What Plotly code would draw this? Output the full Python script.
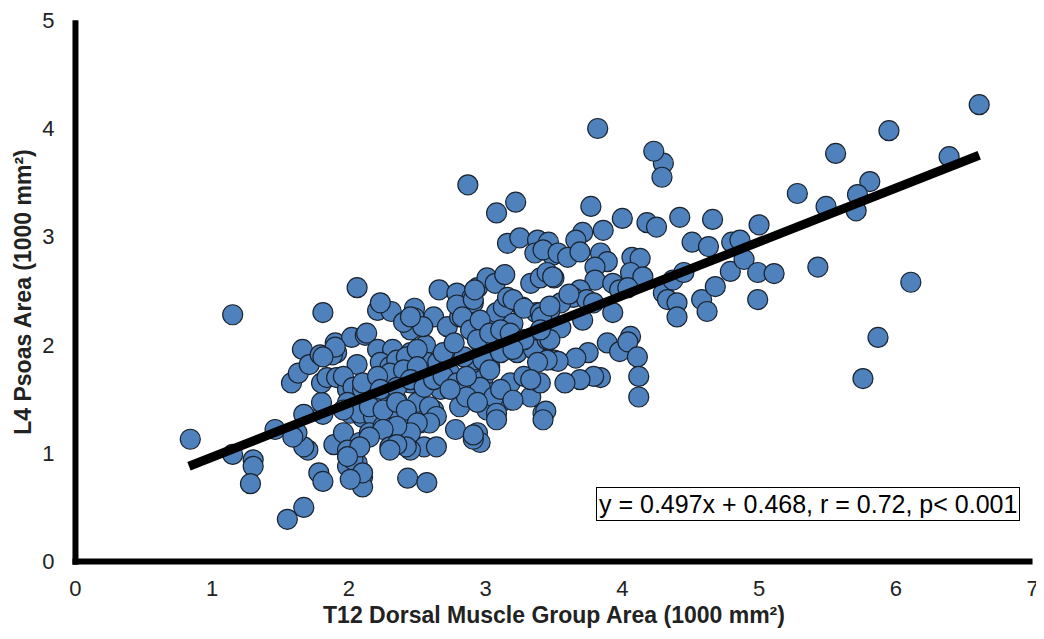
import plotly.graph_objects as go

# Data
t12_area = [
    0.84, 1.15, 1.30, 1.30, 1.28, 1.15, 1.81, 1.46, 1.55, 1.67, 1.78, 1.81, 1.70, 1.67, 1.62, 1.59,
    1.67, 1.81, 1.80, 1.58, 1.63, 1.66, 1.71, 1.79, 1.80, 1.84, 1.91, 1.90, 1.91, 1.88, 2.02, 2.12,
    2.06, 1.99, 2.01, 2.10, 1.96, 1.89, 2.01, 2.06, 2.10, 2.10, 1.99,
    2.21, 2.31, 2.48, 2.48, 2.62, 2.72, 2.81, 2.85, 2.91, 3.01, 3.08, 3.13, 3.20, 3.27, 3.37, 3.47,
    2.13, 2.21, 2.32, 2.45, 2.56, 1.96, 2.23, 2.30, 2.38, 2.45, 2.57, 2.03, 2.10, 2.18, 2.23, 2.35,
    2.50, 2.62, 2.59, 2.67, 2.74, 2.81, 2.89, 2.91, 2.96, 3.03, 2.98, 3.05, 3.11, 3.01, 3.18, 3.28,
    3.33, 3.40, 3.42, 3.23, 3.35, 3.45, 3.50, 2.81, 2.35, 1.99, 2.08, 2.18, 1.96, 2.08, 2.15, 2.25,
    2.35, 2.32, 2.42, 2.52, 2.59, 2.55, 2.64, 2.45, 2.78, 2.94, 2.96, 2.03, 2.10, 2.43, 2.57, 1.99,
    2.87, 3.08, 3.22, 3.16, 3.25, 3.38, 3.46, 3.36, 3.49, 2.06, 2.66, 2.79, 2.90, 2.94, 3.01, 3.07,
    3.14, 2.23, 2.79, 2.91, 3.16, 3.20, 3.28, 3.33, 3.40, 3.50, 3.40,
    4.30, 4.29, 4.23, 3.77, 4.00, 4.18, 4.25, 4.42, 4.66, 5.00, 3.71, 3.66, 3.86, 3.42, 3.53, 3.60,
    3.69, 3.45, 3.49, 3.84, 3.89, 3.80, 3.80, 3.93, 4.07, 4.13, 4.06, 4.15, 3.69, 3.64, 3.74, 3.98,
    4.04, 3.55, 3.47, 3.41, 3.71, 3.93, 3.55, 3.47, 4.30, 4.37, 4.45, 4.33, 4.40, 4.40, 4.58, 4.62,
    4.68, 4.51, 4.63, 4.80, 4.86, 4.79, 4.89, 4.99, 4.99, 3.89, 3.98, 4.06, 4.04, 4.11, 4.12, 4.12,
    3.75, 3.66, 3.53, 3.45, 3.84, 3.79, 3.69, 3.58, 3.44, 3.82,
    6.61, 5.95, 5.56, 6.39, 5.28, 5.81, 5.72, 5.71, 5.49, 5.11, 5.43, 6.11, 5.87, 5.76,
    2.92, 2.83, 2.89, 2.96, 3.01, 2.45, 2.40, 1.90, 1.81, 2.35, 2.42, 2.50, 2.30, 2.40, 2.50, 2.65,
    2.74, 2.84, 2.98, 3.03, 2.10, 2.21, 2.23, 2.35, 2.45, 2.55, 2.62, 2.69, 2.79, 2.86, 2.96, 3.06,
    1.96, 2.15, 2.25, 2.35, 2.42, 2.59, 2.64, 2.59, 2.50, 2.45, 2.35, 2.25, 2.15, 2.08, 2.91, 2.30,
    2.42, 2.01,
    3.61, 3.79, 3.47, 2.94, 3.03, 3.11, 3.18, 3.28, 3.40, 3.38, 3.33, 3.11, 3.08, 2.86, 2.94, 3.20,
    2.74, 2.86, 3.11, 3.20, 2.69, 2.77, 2.54, 2.45,
    2.91, 2.35, 2.30, 1.99, 3.42, 3.08,
]
l4_psoas_area = [
    1.13, 0.99, 0.94, 0.88, 0.72, 2.28, 2.30, 1.22, 0.39, 0.50, 0.82, 0.74, 1.03, 1.06, 1.19, 1.15,
    1.36, 1.36, 1.47, 1.65, 1.74, 1.96, 1.82, 1.91, 1.65, 1.70, 1.70, 2.02, 1.93, 1.91, 2.07, 2.09,
    1.82, 1.59, 1.37, 1.33, 1.15, 1.08, 1.00, 0.91, 0.78, 0.69, 0.88,
    2.32, 2.31, 2.34, 2.25, 2.26, 2.17, 2.26, 2.35, 2.39, 2.20, 2.30, 2.35, 2.20, 2.35, 2.30, 2.23,
    2.11, 1.96, 1.96, 1.93, 2.00, 1.71, 1.84, 1.80, 1.74, 1.65, 1.84, 1.61, 1.59, 1.65, 1.56, 1.49,
    1.47, 1.40, 1.65, 1.59, 1.74, 1.61, 1.74, 1.86, 2.02, 1.80, 1.68, 1.56, 1.47, 1.40, 1.65, 1.71,
    1.52, 1.65, 1.37, 1.93, 1.96, 2.05, 1.86, 1.43, 1.40, 1.47, 1.37, 1.34, 1.19, 1.10, 1.19, 1.25,
    1.15, 1.10, 1.25, 1.28, 1.31, 1.06, 1.06, 1.03, 1.22, 1.19, 1.10, 0.94, 0.82, 0.77, 0.73, 1.03,
    3.48, 3.22, 3.32, 2.94, 2.99, 2.97, 2.95, 2.85, 2.83, 2.53, 2.51, 2.48, 2.44, 2.53, 2.62, 2.57,
    2.65, 2.39, 2.37, 2.42, 2.44, 2.42, 2.34, 2.57, 2.62, 2.62, 2.30,
    3.68, 3.55, 3.79, 3.28, 3.17, 3.13, 3.09, 3.18, 3.16, 3.11, 3.04, 2.97, 3.06, 2.88, 2.85, 2.81,
    2.86, 2.67, 2.63, 2.85, 2.77, 2.72, 2.60, 2.57, 2.81, 2.80, 2.67, 2.63, 2.51, 2.44, 2.42, 2.51,
    2.53, 2.39, 2.32, 2.26, 2.23, 2.30, 2.16, 2.05, 2.48, 2.60, 2.67, 2.42, 2.39, 2.26, 2.42, 2.31,
    2.54, 2.95, 2.91, 2.95, 2.97, 2.68, 2.79, 2.42, 2.67, 2.02, 1.94, 2.08, 2.03, 1.89, 1.71, 1.52,
    1.93, 1.88, 1.85, 1.86, 1.70, 1.71, 1.68, 1.65, 1.39, 4.00,
    4.22, 3.98, 3.77, 3.74, 3.40, 3.51, 3.39, 3.24, 3.28, 2.66, 2.72, 2.58, 2.07, 1.69,
    2.51, 2.26, 2.14, 2.23, 2.08, 2.14, 2.21, 1.98, 1.89, 1.86, 1.89, 1.96, 1.74, 1.77, 1.80, 1.84,
    1.93, 1.89, 1.86, 1.77, 1.65, 1.71, 1.59, 1.61, 1.68, 1.61, 1.68, 1.71, 1.65, 1.61, 1.61, 1.52,
    1.40, 1.43, 1.40, 1.47, 1.40, 1.43, 1.34, 1.28, 1.28, 1.19, 1.25, 1.22, 1.15, 1.06, 1.13, 1.06,
    1.06, 0.76,
    2.47, 2.39, 2.36, 2.05, 2.11, 2.14, 2.11, 2.05, 2.14, 1.84, 1.68, 1.59, 1.37, 1.52, 1.47, 1.49,
    1.59, 1.71, 1.93, 1.96, 1.93, 2.02, 2.17, 2.26,
    1.17, 1.08, 1.03, 0.97, 1.31, 1.31,
]

# Regression reported in the chart
slope = 0.497
intercept = 0.468
fit_x = [0.83, 6.61]
fit_label = "y = 0.497x + 0.468, r = 0.72, p< 0.001"

x_ticks = [0, 1, 2, 3, 4, 5, 6, 7]
y_ticks = [0, 1, 2, 3, 4, 5]

fig = go.Figure()
fig.add_trace(go.Scatter(
    x=t12_area, y=l4_psoas_area, mode="markers",
    marker=dict(size=20, color="#4F81BD", line=dict(color="#1a2430", width=1.2)),
    showlegend=False, hoverinfo="x+y",
))
fig.add_trace(go.Scatter(
    x=fit_x, y=[slope * v + intercept for v in fit_x], mode="lines",
    line=dict(color="black", width=9), showlegend=False,
))

# axis lines crossing at zero
fig.add_shape(type="line", xref="x", yref="y", x0=0, x1=0, y0=-0.03, y1=5,
              line=dict(color="black", width=6))
fig.add_shape(type="line", xref="x", yref="y", x0=-0.022, x1=7, y0=0, y1=0,
              line=dict(color="black", width=6))

fig.add_annotation(
    x=5.356, y=0.536, xref="x", yref="y", text=fit_label, showarrow=False,
    font=dict(family="Liberation Sans, Arial, sans-serif", size=25, color="black"),
    bordercolor="black", borderwidth=1, borderpad=2, bgcolor="white",
)

tick_font = dict(family="Liberation Sans, Arial, sans-serif", size=22, color="#222222")
title_font = dict(family="Liberation Sans, Arial, sans-serif", size=23, color="#222222")

# page body has an 8px margin, so the figure is offset by it
fig.update_layout(
    width=1036, height=631,
    margin=dict(l=62, r=6, t=9, b=72),
    paper_bgcolor="white", plot_bgcolor="white",
    xaxis=dict(
        range=[-0.04, 7.04], tickvals=x_ticks, ticktext=[str(v) for v in x_ticks],
        showgrid=False, zeroline=False, showline=False,
        ticks="outside", ticklen=2, tickcolor="rgba(0,0,0,0)",
        tickfont=tick_font, ticklabeloverflow="allow", automargin=False,
        title=dict(text="<b>T12 Dorsal Muscle Group Area (1000 mm²)</b>", font=title_font, standoff=6),
    ),
    yaxis=dict(
        range=[-0.05, 5.03], tickvals=y_ticks, ticktext=[str(v) for v in y_ticks],
        showgrid=False, zeroline=False, showline=False,
        ticks="outside", ticklen=10, tickcolor="rgba(0,0,0,0)",
        tickfont=tick_font, ticklabeloverflow="allow", automargin=False,
        title=dict(text="<b>L4 Psoas Area (1000 mm²)</b>", font=title_font, standoff=4),
    ),
)

fig.write_html("out.html")
